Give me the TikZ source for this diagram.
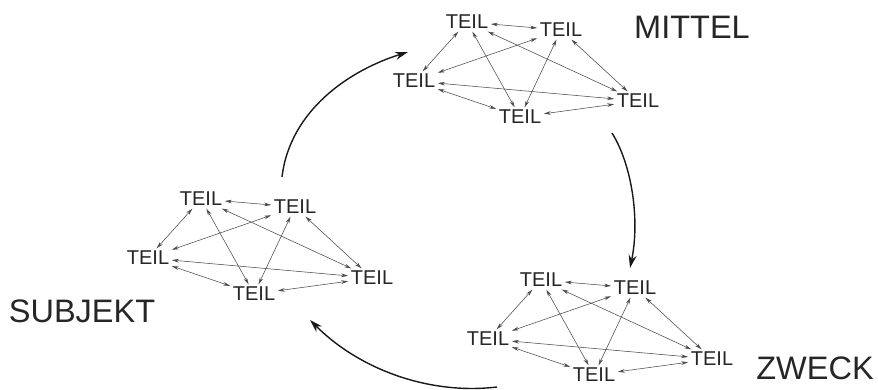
\documentclass[tikz,border=0pt]{standalone}
\usepackage{fontspec}
\setmainfont{Liberation Sans}
\usetikzlibrary{arrows.meta}
\newcommand\mycluster[3]{%
  \begin{scope}[shift={(#2,#3)}]
    \node[teil] (#1a) at (0,0) {TEIL};
    \node[teil] (#1b) at (94,8) {TEIL};
    \node[teil] (#1c) at (-53,59) {TEIL};
    \node[teil] (#1d) at (53,95) {TEIL};
    \node[teil] (#1e) at (171,79) {TEIL};
  \end{scope}
  \draw[link] (#1a) -- (#1b);
  \draw[link] (#1a) -- (#1c);
  \draw[link] (#1a) -- (#1d);
  \draw[link] (#1a) -- (#1e);
  \draw[link] (#1b) -- (#1c);
  \draw[link] (#1b) -- (#1d);
  \draw[link] (#1b) -- (#1e);
  \draw[link] (#1c) -- (#1d);
  \draw[link] (#1c) -- (#1e);
  \draw[link] (#1d) -- (#1e);
}
\begin{document}
\begin{tikzpicture}[x=1pt,y=-1pt,
  teil/.style={font=\fontsize{20}{23}\selectfont, text=black!85, inner sep=2.5pt},
  lbl/.style={font=\fontsize{32.5}{38}\selectfont, text=black!85, inner sep=0pt},
  link/.style={draw=black!70, line width=0.55pt, {Stealth[length=7pt,width=3.6pt]}-{Stealth[length=7pt,width=3.6pt]}},
  cyc/.style={draw=black!90, line width=1.4pt, -{Stealth[length=13pt,width=8pt]}}]
\useasboundingbox (0,0) rectangle (878,390);
\fill[white] (0,0) rectangle (878,390);

\mycluster{t}{467}{22}
\mycluster{l}{201}{199}
\mycluster{r}{541}{280}

\node[lbl] (mittel) at (692,27) {MITTEL};
\node[lbl] (subjekt) at (82,311) {SUBJEKT};
\node[lbl] (zweck) at (815,368) {ZWECK};

\coordinate (s1) at (282,177);
\coordinate (e1) at (408,52);
\coordinate (s2) at (612,133);
\coordinate (e2) at (630,268);
\coordinate (s3) at (497,387);
\coordinate (e3) at (310,320);

\draw[cyc] (s1) .. controls (290,110) and (350,70) .. (e1);
\draw[cyc] (s2) .. controls (632,165) and (640,220) .. (e2);
\draw[cyc] (s3) .. controls (430,395) and (360,370) .. (e3);
\end{tikzpicture}
\end{document}
